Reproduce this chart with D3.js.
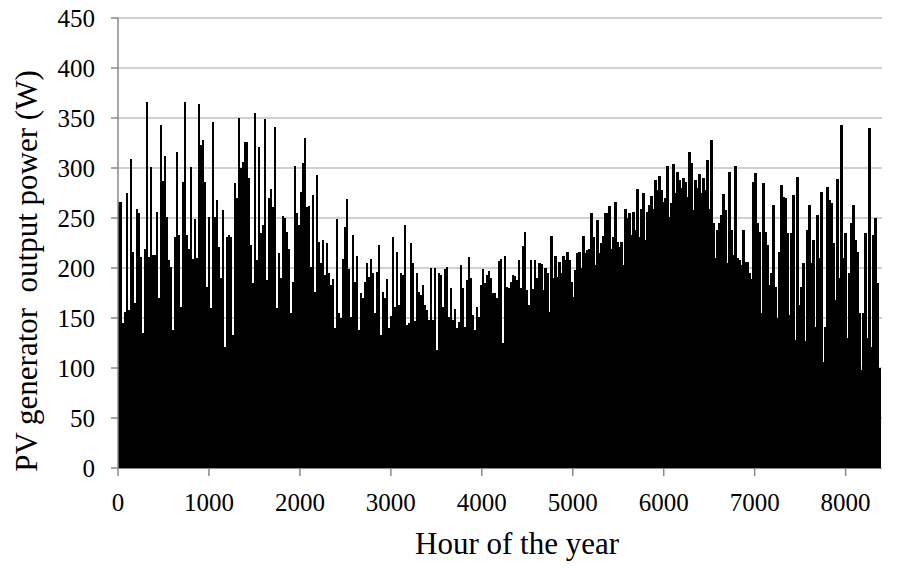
<!DOCTYPE html>
<html><head><meta charset="utf-8">
<script src="https://cdn.jsdelivr.net/npm/d3@7"></script>
<style>body{margin:0;background:#fff;} svg{display:block;}</style>
</head><body>
<svg id="chart" width="906" height="568"></svg>
<script>
// Peak PV output (W) in consecutive 22-hour bins, left to right
const peaksA = [266,266,145,156,275,158,309,216,165,259,255,211,135,219,366,211,301,213,213,256,170,343,287,312,251,208,201,138,231,316,233,161,286,366,233,219,301,209,249,210,364,323,328,286,181,251,160,346,251,268,221,190,258,121,231,233,231,133,285,270,350,300];
const peaksB = [306,326,326,290,223,185,355,208,321,235,243,349,188,270,279,261,341,160,215,190,252,250,236,219,155,186,302,255,243,276,305,330,261,262,201,273,176,293,226,205,228,193,225,195,183,189,140,249,155,150,209,241,269,199,151,233,186,212,138,175,170,186,205];
const peaksC = [191,209,195,155,196,223,133,176,170,189,140,152,231,161,216,163,195,193,243,143,145,225,205,147,195,176,173,183,163,158,148,200,148,200,118,195,193,161,199,201,151,180,148,159,140,146,203,180,141,188,211,190,153,138,161,151,183,199,185,193,197,190,175];
const peaksD = [175,170,207,209,125,212,181,180,186,193,192,188,208,180,222,236,178,163,208,179,208,190,205,204,178,200,195,156,232,190,212,191,206,195,212,208,216,208,186,171,198,215,216,200,232,215,218,219,255,231,203,248,215,225,232,255,255,262,219,231,266,226,221];
const peaksE = [226,203,259,250,255,233,256,238,279,231,259,275,228,256,263,272,259,288,278,292,278,266,270,302,251,265,304,275,296,288,280,290,286,271,316,305,258,288,280,294,275,290,278,308,259,328,245,210,238,245,253,274,258,205,296,238,213,302,210,208,203,238,206];
const peaksF = [206,195,189,286,295,245,236,155,285,236,223,183,195,263,181,150,216,283,271,270,235,153,235,273,128,291,163,181,205,127,238,263,205,228,141,253,210,276,106,141,281,268,265,225,168,289,190,343,210,235,130,195,245,263,228,216,155,98,155,235,130,340,121,233,250,185,100];
const binHours = 22;
const xTicks = [0,1000,2000,3000,4000,5000,6000,7000,8000];
const yTicks = [0,50,100,150,200,250,300,350,400,450];
const xMax = 8400, yMax = 450;
const xTitle = "Hour of the year";
const yTitle = "PV generator  output power (W)";

const peaks = [].concat(peaksA, peaksB, peaksC, peaksD, peaksE, peaksF);

const svg = d3.select("#chart");
const L = 118, R = 882, T = 18, B = 468;
const x = d3.scaleLinear().domain([0, xMax]).range([L, R]);
const y = d3.scaleLinear().domain([0, yMax]).range([B, T]);
const font = "'Liberation Serif','Times New Roman',serif";

// gridlines
svg.append("g").selectAll("line").data(yTicks.filter(d => d > 0)).join("line")
  .attr("x1", L).attr("x2", R).attr("y1", d => y(d)).attr("y2", d => y(d))
  .attr("stroke", "#c0c0c0").attr("stroke-width", 1.6);

// data
svg.append("g").selectAll("rect").data(peaks).join("rect")
  .attr("x", (d, i) => x(i * binHours))
  .attr("width", (d, i) => x((i + 1) * binHours) - x(i * binHours) + 0.3)
  .attr("y", d => y(d))
  .attr("height", d => y(0) - y(d))
  .attr("fill", "#000")
  .attr("shape-rendering", "crispEdges");

// axes
const axisColor = "#888";
svg.append("line").attr("x1", L).attr("x2", L).attr("y1", T).attr("y2", B)
  .attr("stroke", axisColor).attr("stroke-width", 1.5);
svg.append("line").attr("x1", L).attr("x2", R).attr("y1", B + 0.5).attr("y2", B + 0.5)
  .attr("stroke", axisColor).attr("stroke-width", 1.2);
svg.append("g").selectAll("line").data(yTicks).join("line")
  .attr("x1", L - 7).attr("x2", L).attr("y1", d => y(d)).attr("y2", d => y(d))
  .attr("stroke", axisColor).attr("stroke-width", 1.5);
svg.append("g").selectAll("line").data(xTicks).join("line")
  .attr("x1", d => x(d)).attr("x2", d => x(d)).attr("y1", B).attr("y2", B + 8)
  .attr("stroke", axisColor).attr("stroke-width", 1.5);

// tick labels
svg.append("g").selectAll("text").data(yTicks).join("text")
  .attr("x", 95).attr("y", d => y(d)).attr("dy", "0.34em")
  .attr("text-anchor", "end").attr("font-family", font).attr("font-size", 25)
  .attr("fill", "#000").text(d => d);
svg.append("g").selectAll("text").data(xTicks).join("text")
  .attr("x", d => x(d)).attr("y", 511)
  .attr("text-anchor", "middle").attr("font-family", font).attr("font-size", 25)
  .attr("fill", "#000").text(d => d);

// titles
svg.append("text").attr("x", (L + R) / 2 + 17).attr("y", 554)
  .attr("text-anchor", "middle").attr("font-family", font).attr("font-size", 31)
  .attr("fill", "#000").text(xTitle);
svg.append("text").attr("transform", "translate(37,271) rotate(-90)")
  .attr("text-anchor", "middle").attr("font-family", font).attr("font-size", 31)
  .attr("xml:space", "preserve").style("white-space", "pre")
  .attr("fill", "#000").text(yTitle);
</script>
</body></html>
